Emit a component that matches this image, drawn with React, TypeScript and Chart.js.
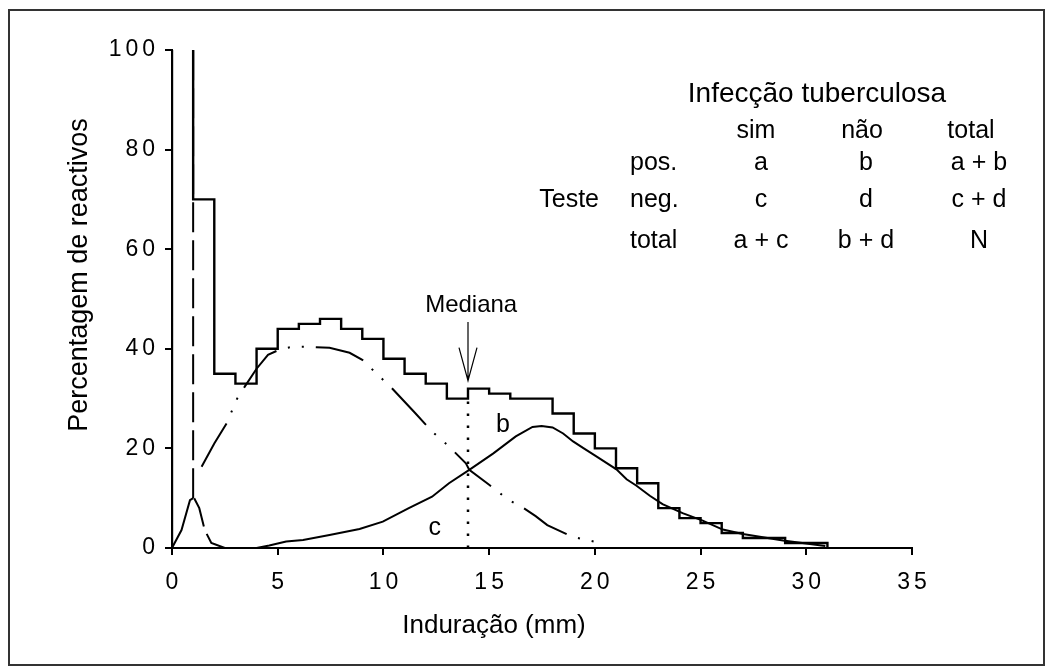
import React, { useEffect, useRef } from 'react';
import { Chart, registerables } from 'chart.js';

Chart.register(...registerables);

const FONT = "'Liberation Sans', Arial, sans-serif";

// Axis ticks
const xTickValues = [0, 5, 10, 15, 20, 25, 30, 35];
const yTickValues = [0, 20, 40, 60, 80, 100];

// Histogram (bin left edges, heights); first bin exceeds the scale
const histEdges = [0, 0, 1, 2, 3, 4, 5, 6, 7, 8, 9, 10, 11, 12, 13, 14, 15, 16, 17, 18, 19, 20, 21, 22, 23, 24, 25, 26, 27, 28, 29, 30, 31];
const histHeights = [0, 120, 70, 35, 33, 40, 44, 45, 46, 44, 42, 38, 35, 33, 30, 32, 31, 30, 30, 27, 23, 20, 16, 13, 8, 6, 5, 3, 2, 2, 1, 1, 0];

// Non-specific reactions (dash-dot-dot curve)
const nonInfX = [1.4, 2.0, 2.58, 3.08, 3.44, 4.0, 4.54, 5.17, 5.72, 6.3, 6.82, 7.45, 8.4, 9.0, 9.9, 10.4, 11.5, 12.3, 13.1, 13.9, 14.06, 15.0, 15.9, 16.6, 17.2, 17.75, 18.9, 19.95];
const nonInfY = [16.3, 21, 25, 30, 32.4, 36, 38.8, 40, 40.4, 40.4, 40.3, 40.2, 39.2, 37.8, 34.1, 32.1, 27.1, 23.4, 20.4, 17, 15.7, 12.7, 9.7, 8.1, 6.4, 4.6, 2.3, 1.3];

// Tuberculous infection (solid curve)
const infX = [4.0, 4.6, 5.4, 6.2, 7.45, 8.87, 9.97, 11.2, 12.3, 13.1, 14.06, 15.2, 16.26, 17.05, 17.48, 18.0, 18.5, 18.97, 19.44, 20.07, 21.02, 21.5, 21.97, 22.6, 23.2, 24.15, 25.1, 26.05, 27.0, 28.9, 30.9];
const infY = [0, 0.5, 1.3, 1.6, 2.6, 3.8, 5.3, 8, 10.3, 13, 15.7, 19, 22.4, 24.3, 24.5, 24.2, 23.0, 21.4, 20.1, 18.4, 15.8, 13.8, 12.5, 10.5, 8.8, 7.0, 5.5, 3.7, 2.8, 1.5, 0.4];

// Non-reactors peak near 0 mm (dashed spike)
const zeroX = [0, 0.45, 0.85, 1.0, 1.0, 1.02, 1.05, 1.29, 1.55, 1.86, 2.5];
const zeroY = [0, 3.6, 9.6, 10, 100, null, 10, 8, 3.6, 1, 0];

// Median
const medianValue = 14;
const medianX = [medianValue, medianValue];
const medianY = [0, 30];

// Texts
const xTitle = 'Induração (mm)';
const yTitle = 'Percentagem de reactivos';
const medianLabel = 'Mediana';
const tableTitle = 'Infecção tuberculosa';
const tableGroupLabel = 'Teste';
const colHeaders = ['sim', 'não', 'total'];
const rowHeaders = ['pos.', 'neg.', 'total'];
const cells = [
  ['a', 'b', 'a + b'],
  ['c', 'd', 'c + d'],
  ['a + c', 'b + d', 'N'],
];

const TICK_SPACING = 4;

const pts = (xs: number[], ys: (number | null)[]) => xs.map((x, i) => ({ x, y: ys[i] }));

const annotationPlugin = {
  id: 'annotations',
  beforeDraw(chart: any) {
    const ctx = chart.ctx;
    ctx.save();
    ctx.strokeStyle = '#333';
    ctx.lineWidth = 2;
    ctx.strokeRect(9, 10, 1035, 655);
    ctx.restore();
    try { ctx.letterSpacing = TICK_SPACING + 'px'; } catch (e) {}
  },
  beforeDatasetsDraw(chart: any) {
    try { chart.ctx.letterSpacing = '0px'; } catch (e) {}
  },
  afterDraw(chart: any) {
    const ctx = chart.ctx;
    const xs = chart.scales.x;
    const ys = chart.scales.y;
    try { ctx.letterSpacing = '0px'; } catch (e) {}
    ctx.save();
    ctx.fillStyle = '#000';
    ctx.strokeStyle = '#000';

    const text = (t: string, x: number, y: number, size: number, align = 'center', baseline = 'alphabetic') => {
      ctx.font = `${size}px ${FONT}`;
      ctx.textAlign = align;
      ctx.textBaseline = baseline;
      ctx.fillText(t, x, y);
    };

    // Axis titles
    text(xTitle, 494, 633, 26);
    ctx.save();
    ctx.translate(80, 275);
    ctx.rotate(-Math.PI / 2);
    text(yTitle, 0, 0, 27, 'center', 'middle');
    ctx.restore();

    // Median arrow
    const mx = xs.getPixelForValue(medianValue);
    const tipY = ys.getPixelForValue(33.6);
    const tailY = ys.getPixelForValue(45.4);
    ctx.lineWidth = 1.2;
    ctx.beginPath();
    ctx.moveTo(mx, tailY);
    ctx.lineTo(mx, tipY);
    ctx.moveTo(mx - 9, tipY - 33);
    ctx.lineTo(mx, tipY);
    ctx.lineTo(mx + 9, tipY - 33);
    ctx.stroke();
    text(medianLabel, xs.getPixelForValue(14.15), ys.getPixelForValue(47.4), 24);

    // Region labels
    text('b', xs.getPixelForValue(15.65), ys.getPixelForValue(24.7), 25, 'center', 'middle');
    text('c', xs.getPixelForValue(12.43), ys.getPixelForValue(4.0), 25, 'center', 'middle');

    // 2x2 table
    text(tableTitle, 817, 102, 28);
    const headerX = [756, 862, 971];
    colHeaders.forEach((h, i) => text(h, headerX[i], 138, 25));
    const cellX = [761, 866, 979];
    const rowY = [170, 207, 248];
    rowHeaders.forEach((r, i) => text(r, 630, rowY[i], 25, 'left'));
    cells.forEach((row, i) => row.forEach((c, j) => text(c, cellX[j], rowY[i], 25)));
    text(tableGroupLabel, 599, 207, 25, 'right');

    ctx.restore();
  },
};

export default function App() {
  const ref = useRef<HTMLCanvasElement | null>(null);
  useEffect(() => {
    const canvas = ref.current;
    if (!canvas) return;
    const tickFont = { family: FONT, size: 23 };
    const chart = new Chart(canvas, {
      type: 'line',
      data: {
        datasets: [
          {
            label: 'Histograma',
            data: pts(histEdges, histHeights),
            stepped: true,
            borderColor: '#000',
            borderWidth: 2.4,
            pointRadius: 0,
            fill: false,
          },
          {
            label: 'Reacções não específicas',
            data: pts(nonInfX, nonInfY),
            borderColor: '#000',
            borderWidth: 2,
            borderDash: [50, 12, 2, 12, 2, 12],
            pointRadius: 0,
            fill: false,
          },
          {
            label: 'Infecção tuberculosa',
            data: pts(infX, infY),
            borderColor: '#000',
            borderWidth: 2,
            pointRadius: 0,
            fill: false,
          },
          {
            label: 'Não reactores',
            data: pts(zeroX, zeroY),
            borderColor: '#000',
            borderWidth: 2,
            pointRadius: 0,
            fill: false,
            spanGaps: false,
            segment: {
              borderDash: (c: any) => (c.p0DataIndex < 3 ? [] : [30, 8]),
            },
          },
          {
            label: 'Mediana',
            data: pts(medianX, medianY),
            borderColor: '#000',
            borderWidth: 2.5,
            borderDash: [2.5, 9.5],
            pointRadius: 0,
            fill: false,
          },
        ],
      },
      options: {
        animation: false,
        responsive: false,
        events: [],
        layout: { padding: { left: 0, top: 50, right: 141, bottom: 0 } },
        plugins: { legend: { display: false }, tooltip: { enabled: false }, title: { display: false } },
        scales: {
          x: {
            type: 'linear',
            min: 0,
            max: 35,
            afterBuildTicks: (s: any) => {
              s.ticks = xTickValues.map((v) => ({ value: v }));
            },
            afterFit: (s: any) => {
              s.height = 120;
            },
            ticks: { font: tickFont, color: '#000', padding: 14, maxRotation: 0, autoSkip: false, labelOffset: TICK_SPACING / 2 },
            grid: { drawOnChartArea: false, drawTicks: true, tickLength: 7, color: '#000', lineWidth: 2 },
            border: { display: true, color: '#000', width: 2 },
          },
          y: {
            type: 'linear',
            min: 0,
            max: 100,
            afterBuildTicks: (s: any) => {
              s.ticks = yTickValues.map((v) => ({ value: v }));
            },
            afterFit: (s: any) => {
              s.width = 172;
            },
            ticks: { font: tickFont, color: '#000', padding: 10 - TICK_SPACING, autoSkip: false },
            grid: { drawOnChartArea: false, drawTicks: true, tickLength: 7, color: '#000', lineWidth: 2 },
            border: { display: true, color: '#000', width: 2 },
          },
        },
      },
      plugins: [annotationPlugin],
    } as any);
    return () => chart.destroy();
  }, []);

  return (
    <div style={{ position: 'fixed', left: 0, top: 0, width: 1053, height: 668, background: '#fff' }}>
      <canvas ref={ref} width={1053} height={668} style={{ display: 'block', width: 1053, height: 668 }} />
    </div>
  );
}
